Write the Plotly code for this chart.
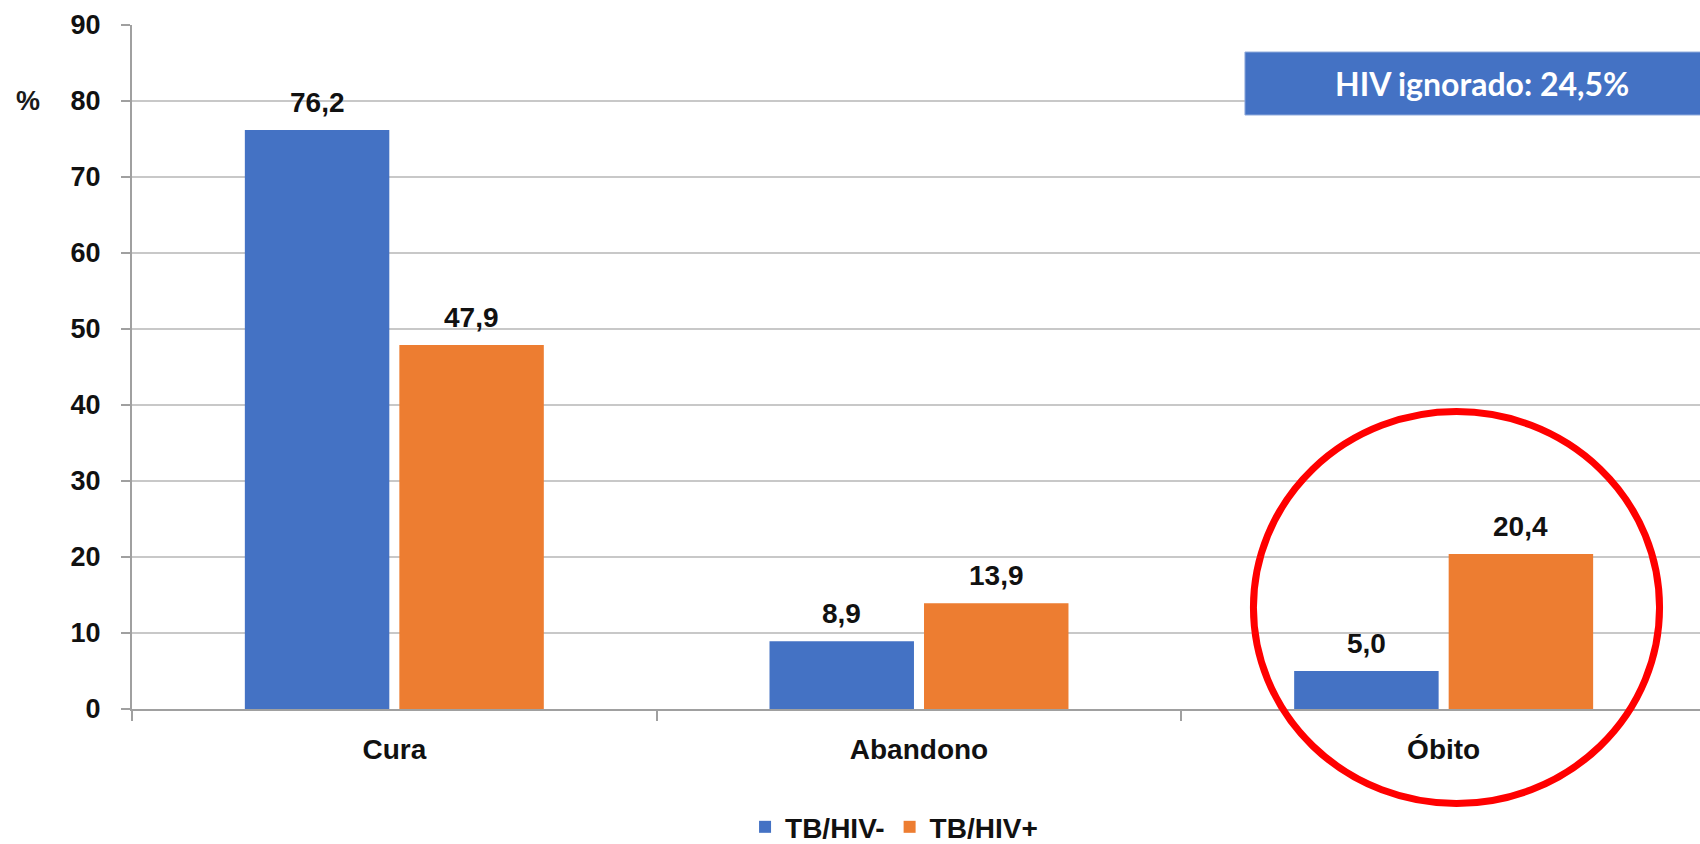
import plotly.graph_objects as go

# Treatment outcome by HIV status (%)
categories = ["Cura", "Abandono", "Óbito"]
hiv_neg = [76.2, 8.9, 5.0]
hiv_pos = [47.9, 13.9, 20.4]
series_names = ["TB/HIV-", "TB/HIV+"]
y_ticks = [0, 10, 20, 30, 40, 50, 60, 70, 80, 90]
note_text = "HIV ignorado: 24,5%"

BLUE = "#4472C4"
ORANGE = "#ED7D31"
FONT = "Liberation Sans, Arial, sans-serif"

BARGAP = 0.411
BARGROUPGAP = 0.065
slot = (1 - BARGAP) / 2


def fmt(v):
    return f"{v:.1f}".replace(".", ",")


fig = go.Figure()
fig.add_trace(go.Bar(x=categories, y=hiv_neg, name=series_names[0],
                     marker=dict(color=BLUE, line=dict(width=0))))
fig.add_trace(go.Bar(x=categories, y=hiv_pos, name=series_names[1],
                     marker=dict(color=ORANGE, line=dict(width=0))))

# value labels above each bar
annotations = []
for values, shift in ((hiv_neg, -slot / 2), (hiv_pos, slot / 2)):
    for i, v in enumerate(values):
        annotations.append(dict(
            x=i + shift, y=v, xref="x", yref="y", text=fmt(v),
            showarrow=False, yanchor="bottom", xanchor="center", yshift=10,
            font=dict(family=FONT, size=28, color="#111111", weight="bold"),
        ))

# unit label next to the y axis
annotations.append(dict(
    x=-0.0663, y=80, xref="paper", yref="y", text="%", showarrow=False,
    xanchor="center", yanchor="middle",
    font=dict(family=FONT, size=27, color="#1a1a1a", weight="bold"),
))

# note text inside the blue box
annotations.append(dict(
    x=0.861, y=0.9145, xref="paper", yref="paper", text=note_text,
    showarrow=False, xanchor="center", yanchor="middle",
    font=dict(family="Lato, Open Sans, sans-serif", size=32, color="white",
              weight="bold"),
))

shapes = [
    # note box
    dict(type="rect", xref="paper", yref="paper", x0=0.7098, x1=1.01,
         y0=0.8684, y1=0.9605, fillcolor=BLUE,
         line=dict(color="#8FAADC", width=1), layer="above"),
    # red highlight around the death outcome
    dict(type="circle", xref="paper", yref="paper", x0=0.7152, x1=0.9742,
         y0=-0.1382, y1=0.4349, line=dict(color="#FF0000", width=7),
         fillcolor="rgba(0,0,0,0)", layer="above"),
]

fig.update_layout(
    width=1700, height=844,
    margin=dict(l=132, r=0, t=25, b=135, autoexpand=False),
    paper_bgcolor="white", plot_bgcolor="white",
    barmode="group", bargap=BARGAP, bargroupgap=BARGROUPGAP,
    showlegend=True,
    legend=dict(orientation="h", x=0.486, xanchor="center",
                yref="container", y=0.02, yanchor="middle",
                font=dict(family=FONT, size=28, color="#111111",
                          weight="bold"),
                bgcolor="rgba(0,0,0,0)", itemwidth=30, tracegroupgap=0),
    annotations=annotations,
    shapes=shapes,
)

fig.update_xaxes(
    type="category", range=[-0.5, 2.4886], tickson="boundaries",
    ticks="outside", ticklen=10, tickcolor="#A0A0A0", tickwidth=2,
    showline=True, linecolor="#A0A0A0", linewidth=2, showgrid=False,
    ticklabelstandoff=14,
    tickfont=dict(family=FONT, size=28, color="#111111", weight="bold"),
)
fig.update_yaxes(
    range=[0, 90], tickvals=y_ticks, ticks="outside", ticklen=9,
    tickcolor="#A0A0A0", tickwidth=2, showline=True, linecolor="#A0A0A0",
    linewidth=2, showgrid=True, gridcolor="#C8C8C8", gridwidth=1.5,
    zeroline=False, ticklabelstandoff=15,
    tickfont=dict(family=FONT, size=27, color="#111111", weight="bold"),
)

fig.write_html("out.html")
